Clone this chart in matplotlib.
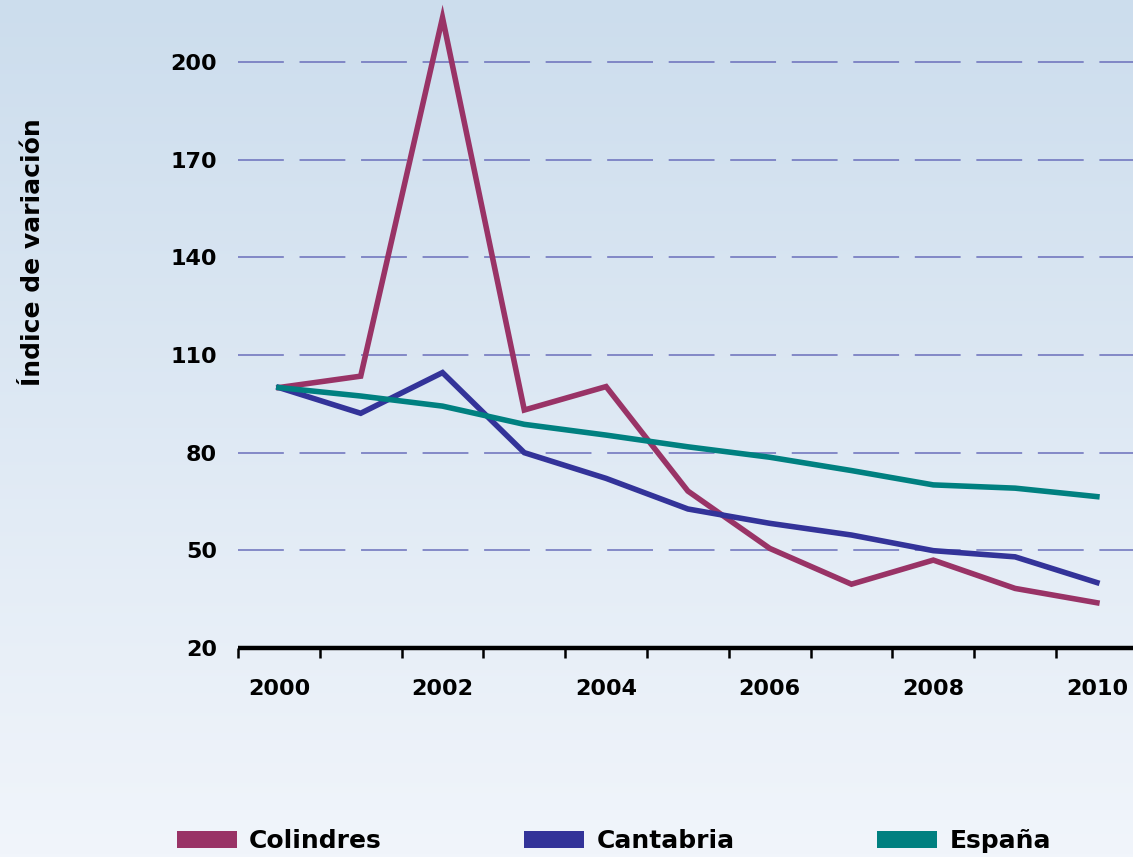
import numpy as np
import matplotlib
matplotlib.use("Agg")
import matplotlib.pyplot as plt
from matplotlib.patches import Patch

# datos
years = [2000, 2001, 2002, 2003, 2004, 2005, 2006, 2007, 2008, 2009, 2010]
colindres = [100, 103.5, 213.6, 93.1, 100.3, 68.2, 50.6, 39.6, 47.0, 38.3, 33.9]
cantabria = [100, 92.1, 104.6, 80.0, 72.1, 62.7, 58.3, 54.7, 49.9, 48.0, 40.1]
espana = [100, 97.4, 94.3, 88.7, 85.4, 81.8, 78.6, 74.5, 70.1, 69.1, 66.5]
series_names = ['Colindres', 'Cantabria', 'España']
series_colors = ['#993366', '#333399', '#008080']
y_ticks = [20, 50, 80, 110, 140, 170, 200]
x_labels = [2000, 2002, 2004, 2006, 2008, 2010]

plt.rcParams['font.family'] = ['DejaVu Sans']
plt.rcParams['font.weight'] = 'bold'
plt.rcParams['lines.scale_dashes'] = False

W, H = 1133, 857
fig = plt.figure(figsize=(W / 100, H / 100), dpi=100)

# fondo degradado
bg = fig.add_axes([0, 0, 1, 1], zorder=-10)
grad = np.linspace(0, 1, 256)[:, None]
top = np.array([204, 221, 237]) / 255
bot = np.array([241, 245, 251]) / 255
img = top[None, None, :] * (1 - grad[..., None]) + bot[None, None, :] * grad[..., None]
img = np.repeat(img, 2, axis=1)
bg.imshow(img, aspect='auto', extent=[0, 1, 0, 1])
bg.set_axis_off()

# ejes principales (en píxeles)
px = 81.8
left, right = 238, 238 + 11 * px
ybot, ytop = 648, 648 - 200 * (586 / 180)
ax = fig.add_axes([left / W, 1 - ybot / H, (right - left) / W, (ybot - ytop) / H])
ax.patch.set_alpha(0)

data = [colindres, cantabria, espana]
for vals, name, col in zip(data, series_names, series_colors):
    ax.plot(years, vals, color=col, lw=4.0, solid_joinstyle='miter', label=name, zorder=3)

ax.set_xlim(1999.5, 2010.5)
ax.set_ylim(20, 220)

ax.set_yticks(y_ticks)
ax.set_yticklabels([str(t) for t in y_ticks], fontsize=16, fontweight='bold')
ax.tick_params(axis='y', length=0, pad=15)
for t in y_ticks[1:]:
    ax.axhline(t, color='#6a6fbb', lw=1.1, ls=(0, (33, 11.3)), zorder=1)

ax.set_xticks(np.arange(1999.5, 2011, 1))
ax.set_xticklabels([])
ax.tick_params(axis='x', which='major', length=7.5, width=1.8, color='black')
ax.set_xticks(x_labels, minor=True)
ax.set_xticklabels([str(y) for y in x_labels], minor=True, fontsize=16, fontweight='bold')
ax.tick_params(axis='x', which='minor', length=0, pad=22)

for s in ['top', 'right', 'left']:
    ax.spines[s].set_visible(False)
ax.spines['bottom'].set_linewidth(3.2)
ax.spines['bottom'].set_capstyle('butt')

fig.text(33 / W, 1 - 252 / H, 'Índice de variación', rotation=90, ha='center', va='center',
         fontsize=18, fontweight='bold')

handles = [Patch(facecolor=c, edgecolor='none', label=n) for n, c in zip(series_names, series_colors)]
fig.legend(handles=handles, loc='center left', bbox_to_anchor=(154 / W, 1 - 841 / H), ncol=3,
           frameon=False, prop={'size': 18, 'weight': 'bold'}, handlelength=2.4, handleheight=0.65,
           handletextpad=0.5, columnspacing=5.7)

fig.savefig('out.png', dpi=100)
